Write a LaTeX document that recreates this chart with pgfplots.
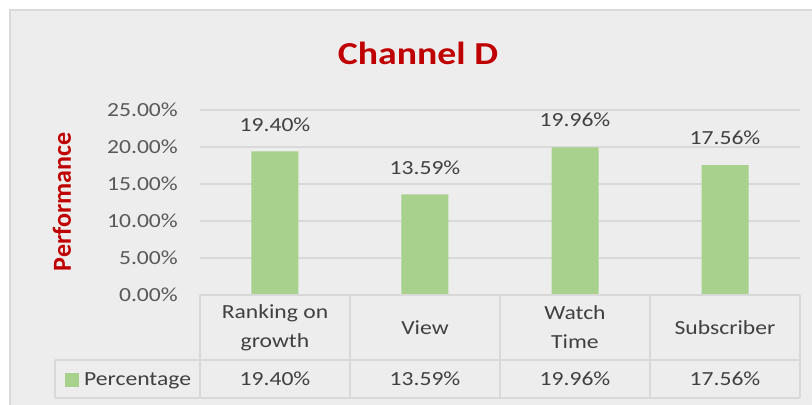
\documentclass[border=0pt]{standalone}
\usepackage{pgfplots}
\pgfplotsset{compat=1.18}
\usepackage{fontspec}
\setmainfont{Carlito}[FakeStretch=1.18]
\newfontfamily\plainfont{Carlito}
\definecolor{bg}{HTML}{EDEDED}
\definecolor{rule}{HTML}{D9D9D9}
\definecolor{barg}{HTML}{A9D18E}
\definecolor{titlered}{HTML}{C00000}
\definecolor{tickc}{HTML}{595959}
\definecolor{txt}{HTML}{404040}
\newcommand{\lbl}{\fontsize{20bp}{29bp}\selectfont}

\begin{document}
\begin{tikzpicture}
\useasboundingbox (-200bp,-110bp) rectangle (612bp,295bp);
\fill[white] (-200bp,-110bp) rectangle (612bp,295bp);
\filldraw[fill=bg, draw=rule, line width=1.5bp] (-190bp,285bp) rectangle (640bp,-140bp);

\begin{axis}[
  scale only axis, width=600bp, height=185bp,
  xmin=-0.5, xmax=3.5, ymin=0, ymax=25,
  axis line style={draw=none},
  tick style={draw=none}, major tick length=0pt,
  ytick={0,5,...,25},
  ymajorgrids, grid style={rule, line width=1.5bp},
  xtick={0,1,2,3},
  xticklabels={{Ranking on\\growth},View,{Watch\\Time},Subscriber},
  xticklabel style={align=center, anchor=center, inner sep=0pt, yshift=-32.5bp, font=\lbl, text=txt},
  /pgf/number format/assume math mode=true,
  yticklabel={\pgfmathprintnumber[fixed,fixed zerofill,precision=2]{\tick}\%},
  yticklabel style={anchor=east, inner sep=0pt, xshift=-22bp, font=\lbl, text=tickc},
  ybar, bar width=47bp,
  nodes near coords={\pgfmathprintnumber[fixed,fixed zerofill,precision=2]{\pgfplotspointmeta}\%},
  every node near coord/.append style={inner sep=0pt, yshift=20bp, font=\lbl, text=txt},
  clip=false,
]
\addplot[fill=barg, draw=none] coordinates {(0,19.40) (1,13.59) (2,19.96) (3,17.56)};
\end{axis}

% title and axis label
\node[anchor=base, font=\bfseries\fontsize{32bp}{38bp}\selectfont, text=titlered] at (218bp,230bp) {Channel D};
\node[rotate=90, font=\plainfont\bfseries\fontsize{26bp}{30bp}\selectfont, text=titlered] at (-138bp,93bp) {Performance};

% data table
\begin{scope}[draw=rule, line width=1.5bp]
  \draw (0bp,0bp) -- (600bp,0bp);
  \draw (-145bp,-65bp) -- (600bp,-65bp);
  \draw (-145bp,-103bp) -- (600bp,-103bp);
  \foreach \x in {0,150,300,450,600} \draw (\x bp,0bp) -- (\x bp,-103bp);
  \draw (-145bp,-65bp) -- (-145bp,-103bp);
\end{scope}
\fill[barg] (-135bp,-78bp) rectangle (-121bp,-92bp);
\node[anchor=base west, inner sep=0pt, font=\lbl, text=txt] at (-116bp,-90bp) {Percentage};
\foreach \x/\v in {75/19.40,225/13.59,375/19.96,525/17.56}
  \node[anchor=base, inner sep=0pt, font=\lbl, text=txt] at (\x bp,-90bp) {\v\%};
\end{tikzpicture}
\end{document}
